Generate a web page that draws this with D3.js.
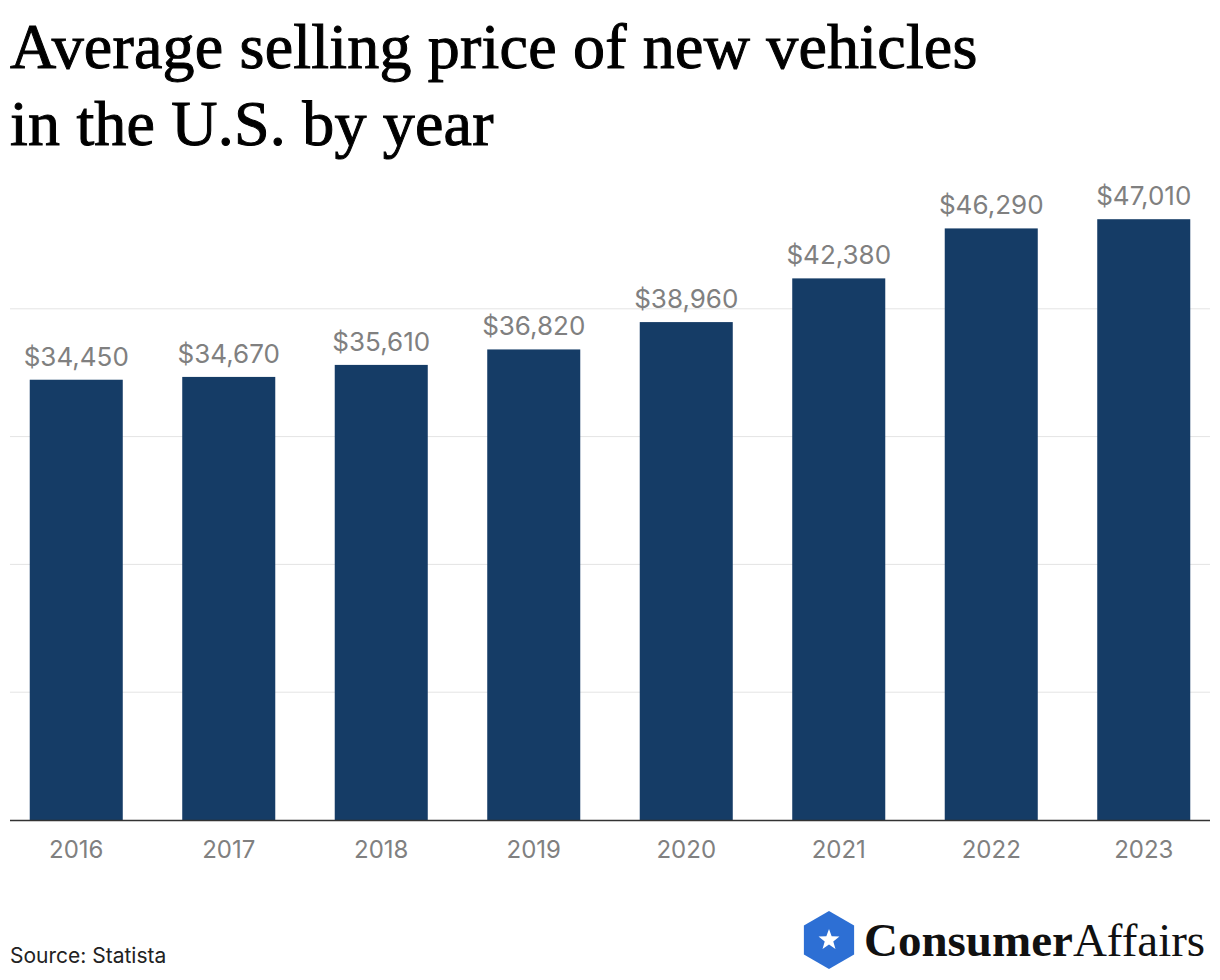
<!DOCTYPE html>
<html><head><meta charset="utf-8">
<script src="https://cdn.jsdelivr.net/npm/d3@7"></script>
<style>body{margin:0;background:#fff}</style>
</head><body>
<svg id="chart" width="1220" height="980"></svg>
<script>
const years = ["2016","2017","2018","2019","2020","2021","2022","2023"];
const prices = [34450, 34670, 35610, 36820, 38960, 42380, 46290, 47010];
const gridTicks = [10000, 20000, 30000, 40000];

const svg = d3.select("#chart");
const sans = "Inter, 'Noto Sans', sans-serif";
const serif = "'Liberation Serif', 'DejaVu Serif', serif";

// title
["Average selling price of new vehicles", "in the U.S. by year"].forEach((t, i) => {
  svg.append("text").attr("x", 10).attr("y", 68 + i * 77)
    .style("font-family", serif).style("font-size", "64px").style("letter-spacing", "0.2px")
    .attr("fill", "#000").attr("stroke", "#000").attr("stroke-width", 1).text(t);
});

let x = d3.scaleBand().domain(years).range([0, 1220]).paddingInner(0.39).paddingOuter(0.195);
let y = d3.scaleLinear().domain([0, 50000]).range([820, 181]);

// grid
svg.selectAll(".grid").data(gridTicks).enter().append("line")
  .attr("x1", 10).attr("x2", 1210)
  .attr("y1", d => y(d)).attr("y2", d => y(d))
  .attr("stroke", "#e4e4e4").attr("stroke-width", 1);

// bars
svg.selectAll(".bar").data(prices).enter().append("rect")
  .attr("x", (d, i) => x(years[i])).attr("width", x.bandwidth())
  .attr("y", d => y(d)).attr("height", d => y(0) - y(d))
  .attr("fill", "#153c66");

// value labels
svg.selectAll(".val").data(prices).enter().append("text")
  .attr("x", (d, i) => x(years[i]) + x.bandwidth() / 2)
  .attr("y", d => y(d) - 14)
  .attr("text-anchor", "middle").attr("fill", "#808080")
  .style("font-family", sans).style("font-size", "26px")
  .text(d => "$" + d3.format(",")(d));

// baseline
svg.append("line").attr("x1", 10).attr("x2", 1210).attr("y1", 820.5).attr("y2", 820.5)
  .attr("stroke", "#333").attr("stroke-width", 1.5);

// x axis labels
svg.selectAll(".yr").data(years).enter().append("text")
  .attr("x", d => x(d) + x.bandwidth() / 2).attr("y", 858)
  .attr("text-anchor", "middle").attr("fill", "#808080")
  .style("font-family", sans).style("font-size", "24px").text(d => d);

// source
svg.append("text").attr("x", 10).attr("y", 963).attr("fill", "#222")
  .style("font-family", sans).style("font-size", "21px").text("Source: Statista");

// logo
const logo = svg.append("g").attr("transform", "translate(829,940)");
const hex = d3.range(6).map(i => {
  const a = Math.PI / 3 * i + Math.PI / 6;
  return [29 * Math.cos(a), 29 * Math.sin(a)];
});
logo.append("path").attr("d", "M" + hex.join("L") + "Z").attr("fill", "#2d6fd4");
const star = d3.range(10).map(i => {
  const a = Math.PI / 5 * i - Math.PI / 2, r = i % 2 ? 4.5 : 11;
  return [r * Math.cos(a), r * Math.sin(a)];
});
logo.append("path").attr("d", "M" + star.join("L") + "Z").attr("fill", "#fff");
const brand = svg.append("text").attr("x", 864).attr("y", 956)
  .style("font-family", serif).style("font-size", "47px").attr("fill", "#111");
brand.append("tspan").style("font-weight", "bold").text("Consumer");
brand.append("tspan").text("Affairs");
</script>
</body></html>
